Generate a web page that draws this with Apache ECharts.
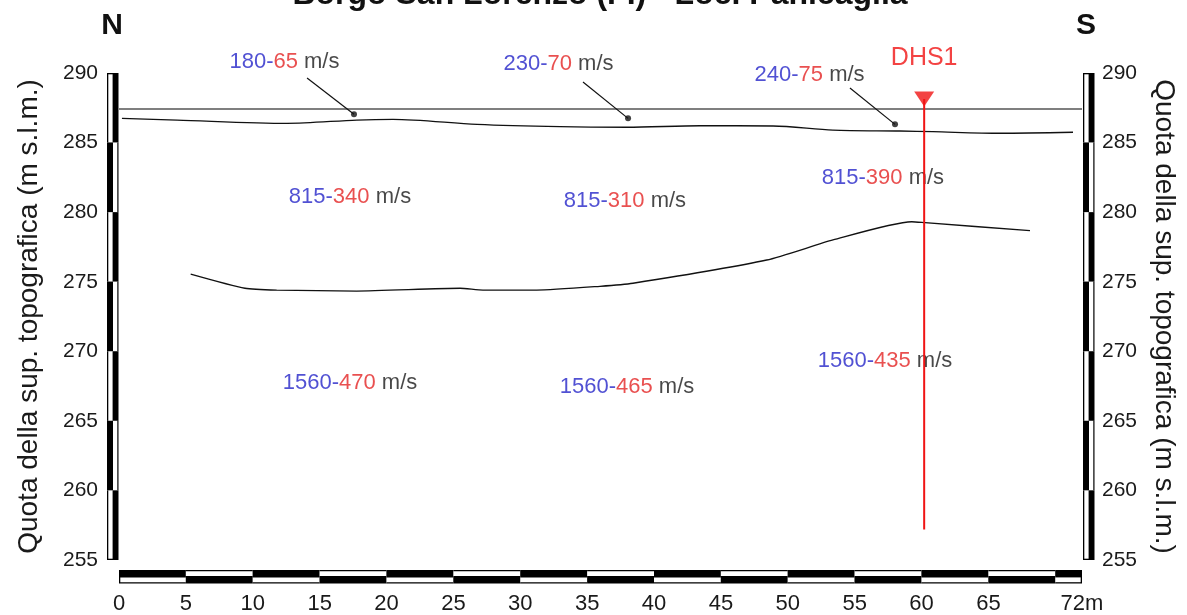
<!DOCTYPE html>
<html><head><meta charset="utf-8">
<script src="https://cdn.jsdelivr.net/npm/echarts@6/dist/echarts.min.js"></script>
<style>html,body{margin:0;padding:0;background:#fff}#c{width:1187px;height:615px}</style>
</head><body><div id="c"></div>
<script>
// ---------- data ----------
const xTickValues = [0, 5, 10, 15, 20, 25, 30, 35, 40, 45, 50, 55, 60, 65, 72];
const xTickLabels = ['0', '5', '10', '15', '20', '25', '30', '35', '40', '45', '50', '55', '60', '65', '72m'];
const yTickValues = [255, 260, 265, 270, 275, 280, 285, 290];
const xMin = 0, xMax = 72, xStep = 5;
const yMin = 255, yMax = 290, yStep = 5;

const referenceLine = [[0, 287.41], [72, 287.41]];
const topography = [[0.22, 286.74], [4.34, 286.62], [12.56, 286.38], [17.79, 286.62], [20.49, 286.67],
  [26.77, 286.31], [32.97, 286.14], [37.98, 286.10], [43.44, 286.21], [48.90, 286.19], [53.38, 285.90],
  [58.39, 285.83], [60.86, 285.78], [65.87, 285.67], [71.33, 285.74]];
const interfaceLine = [[5.36, 275.55], [9.42, 274.53], [11.79, 274.40], [17.77, 274.33], [25.50, 274.53],
  [27.21, 274.40], [31.23, 274.40], [35.96, 274.67], [38.43, 274.89], [48.43, 276.56], [53.38, 278.00],
  [59.27, 279.31], [60.26, 279.24], [68.11, 278.67]];

const boreholeName = 'DHS1';
const boreholeX = 60.2;
const boreholeTop = 288.13;
const boreholeBottom = 257.2;
const boreholeLabelY = 291.08;

const leaderStart = [[14.06, 289.64], [34.69, 289.35], [54.65, 288.92]];
const leaderEnd = [[17.57, 287.03], [38.06, 286.74], [58.02, 286.31]];

const velocityPos = [[12.37, 290.83], [32.86, 290.68], [51.63, 289.86],
  [17.27, 281.09], [37.83, 280.80], [57.12, 282.45],
  [17.27, 267.72], [37.98, 267.43], [57.27, 269.30]];
const velocityVp = ['180', '230', '240', '815', '815', '815', '1560', '1560', '1560'];
const velocityVs = ['65', '70', '75', '340', '310', '390', '470', '465', '435'];

const titleText = 'Borgo San Lorenzo (FI) - Loc. Panicaglia';
const axisName = 'Quota della sup. topografica (m s.l.m.)';

// ---------- build ----------
const FONT = "'Liberation Sans', Arial, sans-serif";
const BLUE = '#2626c8', RED = '#e42424', DHS_RED = '#f01414', INK = '#1a1a1a';

const xSegs = [];
for (let s = xMin, i = 0; s < xMax; s += xStep, i++) xSegs.push([s, Math.min(s + xStep, xMax), i]);
const ySegs = [];
for (let s = yMax, i = 0; s > yMin; s -= yStep, i++) ySegs.push([s, Math.max(s - yStep, yMin), i]);

function renderXBar(params, api) {
  const s = api.value(0), e = api.value(1), i = api.value(2);
  const a = api.coord([s, yMin]), b = api.coord([e, yMin]);
  const x0 = a[0], x1 = b[0], y0 = a[1] + 10, h = 13.5;
  const sx0 = s === xMin ? x0 + 1.3 : x0, sx1 = e === xMax ? x1 - 1.3 : x1;
  const sy = i % 2 === 1 ? y0 + 1.3 : y0 + 7.4;
  return { type: 'group', children: [
    { type: 'rect', shape: { x: x0, y: y0, width: x1 - x0, height: h }, style: { fill: '#000' } },
    { type: 'rect', shape: { x: sx0, y: sy, width: sx1 - sx0, height: 4.8 }, style: { fill: '#fff' } }
  ] };
}
function makeYBar(side) {
  return function (params, api) {
    const s = api.value(0), e = api.value(1), i = api.value(2);
    const xv = side === 'left' ? xMin : xMax;
    const a = api.coord([xv, s]), b = api.coord([xv, e]);
    const y0 = a[1], y1 = b[1];
    const bx = side === 'left' ? a[0] - 12 : a[0] + 1, w = 11.5;
    const sy0 = s === yMax ? y0 + 1.3 : y0, sy1 = e === yMin ? y1 - 1.3 : y1;
    const sx = i % 2 === 0 ? bx + 1.3 : bx + 6.0;
    return { type: 'group', children: [
      { type: 'rect', shape: { x: bx, y: y0, width: w, height: y1 - y0 }, style: { fill: '#000' } },
      { type: 'rect', shape: { x: sx, y: sy0, width: 4.3, height: sy1 - sy0 }, style: { fill: '#fff' } }
    ] };
  };
}

const labelData = velocityPos.map((p, k) => ({ value: p, vp: velocityVp[k], vs: velocityVs[k] }));

const yAxisCommon = {
  type: 'value', min: yMin, max: yMax, interval: yStep,
  axisLine: { show: false }, axisTick: { show: false }, splitLine: { show: false },
  name: axisName, nameLocation: 'middle',
  nameTextStyle: { fontFamily: FONT, fontSize: 28, color: INK },
  axisLabel: { fontFamily: FONT, fontSize: 21, color: INK }
};

const option = {
  animation: false,
  backgroundColor: '#fff',
  grid: { left: 119, right: 105, top: 73, bottom: 55 },
  xAxis: {
    type: 'value', min: xMin, max: xMax, interval: xStep,
    axisLine: { show: false }, axisTick: { show: false }, splitLine: { show: false },
    axisLabel: {
      fontFamily: FONT, fontSize: 22, color: INK, margin: 33, showMaxLabel: true,
      formatter: v => { const k = xTickValues.indexOf(v); return k >= 0 ? xTickLabels[k] : ''; }
    }
  },
  yAxis: [
    Object.assign({}, yAxisCommon, { position: 'left', nameGap: 76, nameRotate: 90,
      axisLabel: Object.assign({}, yAxisCommon.axisLabel, { margin: 21 }) }),
    Object.assign({}, yAxisCommon, { position: 'right', nameGap: 68, nameRotate: -90,
      axisLabel: Object.assign({}, yAxisCommon.axisLabel, { margin: 20 }) })
  ],
  graphic: [
    { type: 'text', x: 600, y: -5, style: { text: titleText, font: "bold 32px 'Liberation Sans', Arial, sans-serif", fill: '#111', textAlign: 'center', textVerticalAlign: 'middle' } },
    { type: 'text', x: 112, y: 26, style: { text: 'N', font: "bold 30px 'Liberation Sans', Arial, sans-serif", fill: '#111', textAlign: 'center', textVerticalAlign: 'middle' } },
    { type: 'text', x: 1086, y: 26, style: { text: 'S', font: "bold 30px 'Liberation Sans', Arial, sans-serif", fill: '#111', textAlign: 'center', textVerticalAlign: 'middle' } }
  ],
  series: [
    { type: 'custom', renderItem: renderXBar, data: xSegs, encode: { x: [0, 1], y: 2 }, clip: false, silent: true },
    { type: 'custom', renderItem: makeYBar('left'), data: ySegs, encode: { y: [0, 1], x: 2 }, clip: false, silent: true },
    { type: 'custom', renderItem: makeYBar('right'), data: ySegs, encode: { y: [0, 1], x: 2 }, clip: false, silent: true },
    { type: 'line', data: referenceLine, symbol: 'none', lineStyle: { color: '#555', width: 1.4 }, silent: true },
    { type: 'line', data: topography, symbol: 'none', smooth: 0.3, lineStyle: { color: '#111', width: 1.3 }, silent: true },
    { type: 'line', data: interfaceLine, symbol: 'none', smooth: 0.2, lineStyle: { color: '#111', width: 1.3 }, silent: true },
    { type: 'line', data: [[boreholeX, boreholeTop], [boreholeX, boreholeBottom]], symbol: 'none', lineStyle: { color: DHS_RED, width: 2 }, silent: true },
    { type: 'scatter', data: [[boreholeX, boreholeTop]], symbol: 'triangle', symbolRotate: 180, symbolSize: [20, 15], itemStyle: { color: DHS_RED }, silent: true, clip: false },
    { type: 'scatter', data: [[boreholeX, boreholeLabelY]], symbolSize: 1, itemStyle: { color: 'rgba(0,0,0,0)' }, clip: false, silent: true,
      label: { show: true, position: 'inside', formatter: boreholeName, fontFamily: FONT, fontSize: 25, color: DHS_RED } },
    ...leaderStart.map((p, k) => ({ type: 'line', data: [p, leaderEnd[k]], symbol: 'none', lineStyle: { color: '#111', width: 1.2 }, silent: true })),
    { type: 'scatter', data: leaderEnd, symbolSize: 6, itemStyle: { color: '#111' }, silent: true },
    { type: 'scatter', data: labelData, symbolSize: 1, itemStyle: { color: 'rgba(0,0,0,0)' }, clip: false, silent: true,
      label: {
        show: true, position: 'inside', fontFamily: FONT, fontSize: 22,
        formatter: p => '{b|' + p.data.vp + '-}{r|' + p.data.vs + '}{k| m/s}',
        rich: {
          b: { color: BLUE, fontFamily: FONT, fontSize: 22 },
          r: { color: RED, fontFamily: FONT, fontSize: 22 },
          k: { color: INK, fontFamily: FONT, fontSize: 22 }
        }
      } }
  ]
};

const chart = echarts.init(document.getElementById('c'), null, { renderer: 'canvas' });
chart.setOption(option);
</script>
</body></html>
